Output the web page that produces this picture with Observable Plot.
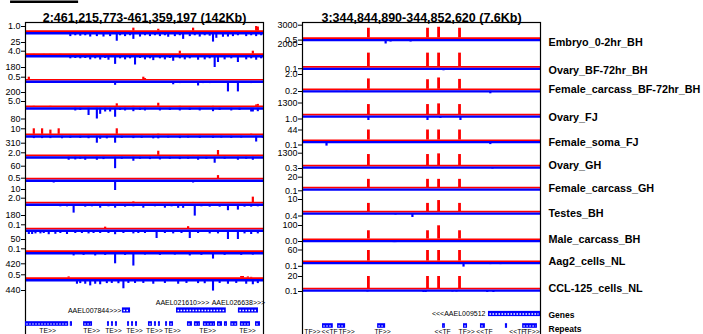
<!DOCTYPE html>
<html><head><meta charset="utf-8">
<script src="https://cdn.jsdelivr.net/npm/d3@7"></script>
<script src="https://cdn.jsdelivr.net/npm/@observablehq/plot@0.6"></script>
<style>
html,body{margin:0;padding:0;background:#fff;overflow:hidden;}
#wrap{position:relative;width:703px;height:334px;overflow:hidden;background:#fff;}
#wrap svg{position:absolute;top:0;}
</style></head><body><div id="wrap"></div>
<script>
// ---------------- DATA ----------------
const trackNames = ["Embryo_0-2hr_BH","Ovary_BF-72hr_BH","Female_carcass_BF-72hr_BH","Ovary_FJ","Female_soma_FJ","Ovary_GH","Female_carcass_GH","Testes_BH","Male_carcass_BH","Aag2_cells_NL","CCL-125_cells_NL"];
const leftTitle = "2:461,215,773-461,359,197 (142Kb)";
const rightTitle = "3:344,844,890-344,852,620 (7.6Kb)";
const leftSpanKb = 143.424;
const rightSpanKb = 7.730;

const leftTopLabels = ["1.0","4.0","0.5","5.0","10","2.0","0.5","2.0","0.1","0.1","0.5"];
const leftBottomLabels = ["25","180","200","80","310","60","10","180","50","420","440"];
const rightTopLabels = ["3000","2000","2.0","1300","44","1300","20","10","100","60","20"];
const rightBottomLabels = ["0.5","0.1","0.2","1.0","0.1","0.3","0.1","0.4","0.0","0.1","0.1"];

// left panel: [kb, value] per track, plus strand (red, up) and minus strand (blue, down)
const leftPlus = [
 [[65,0.7],[80,0.5],[101,0.7],[139,1.0],[140,0.9]],
 [[5,1.2],[11,1.2],[15,1.2],[21,1.2],[93,4.0],[137,4.0]],
 [[2,0.5],[71,0.5],[72,0.3]],
 [[5,1.0],[15,1.0],[55,3.0],[65,1.0],[80,3.5],[93,1.0],[113,1.0],[139,2.0],[140,2.5]],
 [[5,10],[10,10],[15,8],[20,10],[55,10],[80,2],[136,2]],
 [[65,0.6],[80,2.9],[101,0.6],[116,3.3],[140,0.6]],
 [[116,1.5]],
 [[42,0.4],[65,0.6],[101,0.4],[137,2.4]],
 [[48,0.05],[98,0.06]],
 [[75,0.03]],
 [[26,0.25],[130,0.3],[131,0.3],[134,0.25],[136,0.2]]
];
const leftMinus = [
 [[27,11],[30,9],[33,10],[36,9],[39,12],[43,11],[47,12],[51,11],[55,22],[57,9],[60,11],[63,9],[65,17.5],[69,12],[72,9],[75,11],[78,9],[81,11],[84,9],[86,12.5],[90,11],[93,9],[95,17.5],[99,11],[102,9],[105,12],[108,9],[111,10],[113,24],[115,15],[119,12.5],[122,12],[125,11],[128,9],[133,11],[136,9],[139,11],[142,9]],
 [[27,55],[30,50],[33,55],[36,50],[39,70],[42,55],[45,72],[48,50],[50,75],[54,135],[57,55],[60,70],[63,55],[66,144],[69,50],[72,70],[75,55],[77,81],[81,55],[84,70],[87,50],[89,90],[93,55],[96,70],[99,55],[104,75],[108,70],[111,55],[114,180],[116,108],[120,70],[124,55],[128,108],[133,70],[136,55],[139,75],[142,55]],
 [[45,35],[54,80],[58,40],[63,40],[75,45],[82,40],[89,70],[93,50],[97,45],[104,90],[107,50],[111,50],[115,45],[122,190],[128,190],[132,40],[136,50]],
 [[30,25],[33,22],[38,56],[43,80],[45,48],[48,32],[51,32],[54,68],[57,22],[60,25],[65,30],[69,22],[72,25],[81,25],[87,22],[93,25],[99,22],[105,25],[113,30],[117,22],[124,25],[129,22],[136,32],[137,32],[140,30]],
 [[5,130],[10,130],[15,130],[22,135],[27,120],[33,120],[38,135],[43,310],[45,155],[49,140],[54,310],[58,120],[65,130],[70,120],[77,140],[80,140],[86,110],[93,130],[98,110],[105,120],[113,120],[118,110],[124,120],[130,110],[139,264],[143,120]],
 [[26,24],[30,22],[33,18],[36,24],[43,24],[47,20],[54,75],[58,18],[65,30],[69,18],[75,20],[81,22],[87,18],[93,20],[98,18],[104,24],[109,18],[114,42],[120,18],[128,24],[133,18],[137,24]],
 [[17,3.5],[39,3],[54,11],[65,3],[81,3],[101,3.5],[130,3]],
 [[21,50],[25,50],[29,144],[36,55],[40,50],[45,70],[50,50],[54,70],[60,55],[65,50],[71,70],[78,50],[84,70],[88,50],[92,72],[95,72],[102,189],[106,50],[111,55],[117,55],[122,108],[128,99],[132,55],[136,55],[140,50]],
 [[2,25],[4,25],[6,22],[9,22],[11,20],[14,26],[18,24],[21,20],[25,25],[30,20],[34,20],[38,22],[41,20],[45,20],[50,20],[54,26],[59,20],[65,22],[68,20],[72,20],[79,45],[84,20],[89,22],[94,20],[99,45],[104,20],[111,22],[116,22],[122,50],[128,50],[132,22],[136,25],[140,22]],
 [[29,140],[35,120],[42,140],[48,120],[54,420],[60,120],[65,500],[72,110],[81,120],[90,110],[99,140],[106,120],[113,252],[120,120],[130,120],[137,110]],
 [[31,200],[33,176],[36,200],[39,264],[42,200],[45,220],[49,176],[52,170],[56,180],[59,374],[62,170],[66,170],[71,170],[77,200],[84,170],[92,200],[97,170],[104,176],[108,180],[113,462],[117,170],[122,200],[127,170],[133,200],[137,220],[140,176]]
];

// right panel: four small-RNA peaks (kb) with plus-strand values per track
const rightPeakKb = [2.14, 4.06, 4.42, 5.10];
const rightPlus = [
 [2340,2340,2550,2340],[1260,1260,1260,1260],[1.44,1.34,1.56,1.38],[1138,1138,1209,1138],
 [44,44,44,44],[1170,1170,1235,1170],[16.2,16.2,16.2,16.2],[7.0,7.0,9.2,7.0],
 [64,64,98,64],[57.6,57.6,57.6,57.6],[20,20,20,20]
];
// right panel minus strand, relative signal [kb, relative value]
const rightMinus = [
 [[1.46,0.4],[2.11,0.4],[2.31,0.4],[2.7,1.0],[2.86,0.6],[3.12,0.4],[3.51,0.6],[3.93,0.4],[4.48,0.4],[6.43,0.4]],
 [[4.58,0.6]],
 [[1.43,0.4],[2.96,0.2],[6.1,0.7]],
 [[2.14,1.0],[3.09,0.2],[3.3,0.2],[3.51,0.2],[4.06,1.0],[4.48,0.6],[5.13,1.0]],
 [[0.78,1.0],[3.41,0.3],[6.1,0.7]],
 [[1.46,0.2],[2.14,0.4],[2.76,0.2],[4.06,0.4],[5.13,0.3],[6.17,0.5],[6.5,0.2]],
 [[3.41,0.2],[6.1,0.4],[6.3,0.4],[6.53,0.4]],
 [[2.7,0.3],[3.02,0.5],[3.18,0.3],[3.35,0.3],[3.57,1.0],[4.64,0.3],[6.43,0.3]],
 [[2.44,0.2],[2.96,0.5],[3.02,0.5]],
 [[1.23,0.3],[5.23,1.0],[5.85,0.3],[6.1,0.5],[6.43,0.5],[6.76,0.3]],
 [[1.4,0.2],[2.11,0.5],[2.7,0.3],[2.9,0.3],[3.6,0.3],[3.93,0.6],[4.0,0.6],[4.87,0.5],[5.0,0.5],[6.0,0.6],[6.2,0.6],[6.76,0.3]]
];

// gene and repeat annotations (kb from window start)
const leftGeneNames = ["AAEL007844","AAEL021610","AAEL026638"];
const leftGeneStart = [58.4, 91.0, 128.3];
const leftGeneEnd = [63.3, 121.0, 140.4];
const leftRepeats = [[0,26],[27,28.3],[35,40.4],[49.4,50.6],[51.8,53],[54.2,55.4],[61.5,62.7],[63.9,65.1],[66.3,67.5],[74.1,76.5],[77.7,78.9],[80.1,81.3],[84.4,85.6],[86.8,89.2],[97.6,100.6],[101.8,105.4],[107.2,114.5],[115.7,118.7],[119.9,121.7],[123.7,127.9],[129.5,135.6],[138.6,141.6]];
const leftRepeatLabelKb = [13.3, 39.8, 53, 65.7, 77.7, 88.6, 109.7, 133.8];
const rightGeneNames = ["AAEL009512"];
const rightGeneStart = [6.04];
const rightGeneEnd = [7.73];
const rightRepeats = [[0.65,1.0],[1.14,1.4],[2.44,2.7],[4.55,4.64],[5.23,5.36],[5.78,5.94],[6.59,6.66],[7.15,7.63]];
const rightRepeatLabelKb = [0.32, 0.88, 1.43, 2.6, 4.55, 5.33, 5.91, 6.98, 7.44];
const rightRepeatStrand = ["+","-","+","+","-","+","-","-","+"];

// ---------------- LAYOUT (vertical layout units = px) ----------------
const leftTickTop = [26, 50.7, 76.7, 101, 128.3, 152.3, 177.7, 197.7, 224.3, 248.3, 274.3];
const leftBase = [31.5, 54.5, 80.1, 106.8, 134.8, 155.8, 179, 203, 229, 251.5, 278.5];
const leftTickBottom = [42, 67, 92, 118.5, 142.7, 165.7, 189, 215, 239, 263.3, 290];
const rightTickTop = [24.7, 44, 74, 102.5, 129.5, 152.7, 176.7, 199, 225, 249.5, 276];
const rightBase = [38.5, 67.3, 89.8, 115, 140.6, 166, 188, 212, 239.6, 261.6, 289];
const rightTickBottom = [39.6, 68.2, 91, 118.5, 144.5, 168, 190.3, 215.5, 241, 265.8, 291];
const rightLabelY = [41.7, 70, 89.3, 116.7, 141.7, 165, 188.3, 212.7, 239.3, 260.7, 288.3];

const RED = "#ff0000", BLUE = "#0000ff";
const FONT = "'Liberation Sans', Arial, Helvetica, sans-serif";
const H = 345;

function panel(o) {
  const idx = d3.range(o.base.length);
  const topMax = o.topLabels.map(Number);
  const botMax = o.bottomLabels.map(Number);
  const yPlus = d => o.base[d.t] - d.v / topMax[d.t] * (o.base[d.t] - o.top[d.t]);
  const yMinus = o.minusDepth
    ? d => o.base[d.t] + d.v * o.minusDepth
    : d => o.base[d.t] + d.v / botMax[d.t] * (o.bottom[d.t] - o.base[d.t]);
  const tickPos = [...o.top, ...o.bottom];
  const tickText = new Map(tickPos.map((p, i) => [p, i < o.top.length ? o.topLabels[i] : o.bottomLabels[i - o.top.length]]));
  return Plot.plot({
    width: o.width, height: H,
    marginLeft: o.marginLeft, marginRight: o.marginRight, marginTop: 22, marginBottom: 0,
    style: {fontFamily: FONT, background: "transparent", overflow: "visible", color: "black"},
    x: {domain: [0, o.span], axis: null},
    y: {domain: [0, H], range: [0, H]},
    marks: [
      Plot.ruleY(idx, {y: i => o.base[i] - 0.85, stroke: RED, strokeWidth: 1.7}),
      Plot.ruleY(idx, {y: i => o.base[i] + o.blueLineW / 2, stroke: BLUE, strokeWidth: o.blueLineW}),
      Plot.ruleX(o.plusRows, {x: "kb", y1: d => o.base[d.t] - 1, y2: yPlus, stroke: RED, strokeWidth: o.plusW}),
      Plot.ruleX(o.minusRows, {x: "kb", y1: d => o.base[d.t] + 1, y2: yMinus, stroke: BLUE, strokeWidth: o.minusW}),
      Plot.axisY({ticks: tickPos, tickFormat: p => tickText.get(p), tickSize: 4, tickPadding: 1, fontSize: 9, label: null}),
      Plot.frame({stroke: "black", strokeWidth: 1.2}),
      Plot.text([o.title], {frameAnchor: "top", dy: -9.3, fontSize: 12.5, fontWeight: "bold"}),
      ...o.extra
    ]
  });
}

function annotMarks(genes, geneLabelMarks, repeats, repeatLabels, geneY, repY, repLabelY) {
  return [
    Plot.rect(genes, {x1: "start", x2: "end", y1: geneY - 2.6, y2: geneY + 2.6, fill: BLUE}),
    Plot.ruleY(genes, {x1: "start", x2: "end", y: geneY, stroke: "white", strokeWidth: 1.3, strokeDasharray: "1.6,1.4", insetLeft: 1.5, insetRight: 1.5}),
    ...geneLabelMarks,
    Plot.rect(repeats, {x1: d => d[0], x2: d => d[1], y1: repY - 2.3, y2: repY + 2.3, fill: BLUE}),
    Plot.ruleY(repeats, {x1: d => d[0], x2: d => d[1], y: repY, stroke: "white", strokeWidth: 1.2, strokeDasharray: "1.6,1.4", insetLeft: 1.2, insetRight: 1.2}),
    Plot.text(repeatLabels, {x: "kb", y: repLabelY, text: "label", fontSize: 6.8})
  ];
}

// left panel
const leftGenes = leftGeneNames.map((n, i) => ({name: n, start: leftGeneStart[i], end: leftGeneEnd[i]}));
const leftGeneLabelKb = [null, 94.6, 128.3];
const leftExtra = [
  Plot.ruleY([1.3], {x1: -9, x2: 32, stroke: "black", strokeWidth: 2.6}),
  ...annotMarks(leftGenes, [
    Plot.text([leftGenes[0]], {x: "start", y: 309.8, text: d => d.name + ">>>", textAnchor: "end", dx: -1, fontSize: 7}),
    Plot.text(leftGenes.slice(1), {x: (d, i) => leftGeneLabelKb[i + 1], y: 302, text: d => d.name + ">>>", fontSize: 7})
  ], leftRepeats, leftRepeatLabelKb.map(kb => ({kb, label: "TE>>"})), 310, 323.5, 330.3)
];
const leftSvg = panel({
  width: 270, marginLeft: 25, marginRight: 7, span: leftSpanKb, title: leftTitle,
  top: leftTickTop, base: leftBase, bottom: leftTickBottom,
  topLabels: leftTopLabels, bottomLabels: leftBottomLabels,
  plusRows: leftPlus.flatMap((a, t) => a.map(([kb, v]) => ({t, kb, v}))),
  minusRows: leftMinus.flatMap((a, t) => a.map(([kb, v]) => ({t, kb, v}))),
  plusW: 2.2, minusW: 2.1, blueLineW: 2.4, extra: leftExtra
});

// right panel
const rightGenes = rightGeneNames.map((n, i) => ({name: n, start: rightGeneStart[i], end: rightGeneEnd[i]}));
const rightExtra = [
  ...annotMarks(rightGenes, [
    Plot.text(rightGenes, {x: "start", y: 313.5, text: d => "<<<" + d.name, textAnchor: "end", dx: -3, fontSize: 7})
  ], rightRepeats, rightRepeatLabelKb.map((kb, i) => ({kb, label: rightRepeatStrand[i] === "+" ? "TF>>" : "<<TF"})), 313.5, 325.5, 331.8),
  Plot.text(trackNames, {x: rightSpanKb, y: (d, i) => rightLabelY[i], dx: 8, textAnchor: "start", fontSize: 10.8, fontWeight: "bold"}),
  Plot.text(["Genes", "Repeats"], {x: rightSpanKb, y: (d, i) => [314.3, 328.3][i], dx: 8, textAnchor: "start", fontSize: 8.5, fontWeight: "bold"})
];
const rightSvg = panel({
  width: 433, marginLeft: 32, marginRight: 163, span: rightSpanKb, title: rightTitle,
  top: rightTickTop, base: rightBase, bottom: rightTickBottom,
  topLabels: rightTopLabels, bottomLabels: rightBottomLabels,
  plusRows: rightPlus.flatMap((a, t) => a.map((v, j) => ({t, kb: rightPeakKb[j], v}))),
  minusRows: rightMinus.flatMap((a, t) => a.map(([kb, v]) => ({t, kb, v}))),
  minusDepth: 5, plusW: 2.8, minusW: 2.2, blueLineW: 2.2, extra: rightExtra
});

leftSvg.style.left = "0px";
rightSvg.style.left = "270px";
document.getElementById("wrap").append(leftSvg, rightSvg);
</script></body></html>
